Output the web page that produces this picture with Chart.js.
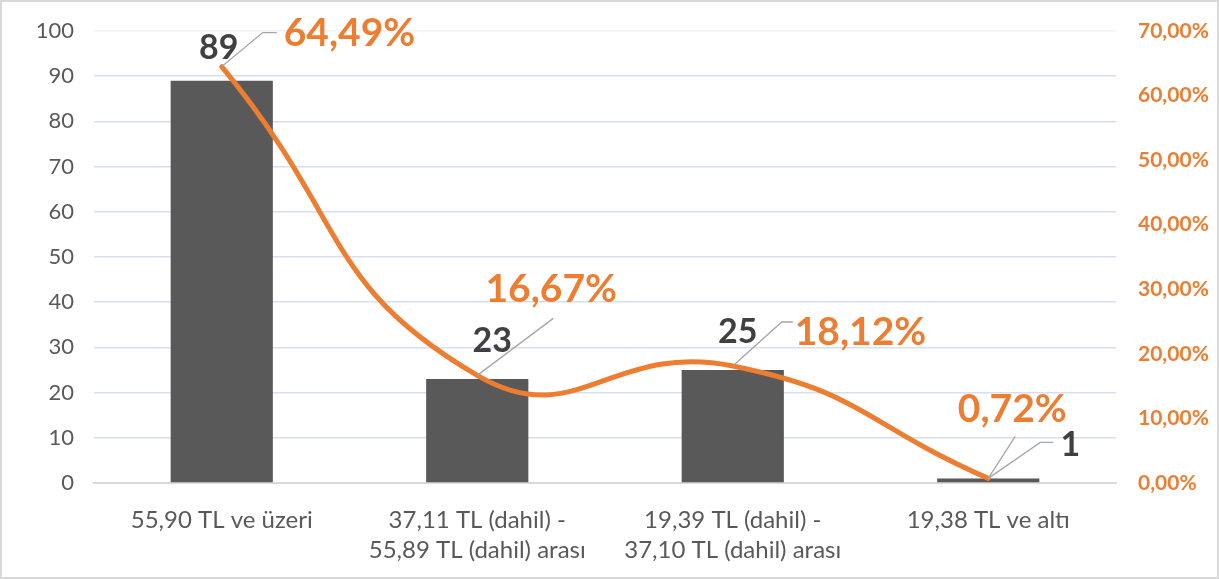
<!doctype html>
<html lang="tr">
<head>
<meta charset="utf-8">
<title>Fiyat aralığı</title>
<style>
  *{box-sizing:border-box;margin:0;padding:0}
  html,body{width:1219px;height:579px;background:#fff;overflow:hidden}
  .wrap{position:relative;width:1219px;height:579px;border:2px solid #d9d9d9}
  canvas{display:block}
</style>
</head>
<body>
<div class="wrap"><canvas id="c" width="1215" height="575"></canvas></div>
<script src="https://cdn.jsdelivr.net/npm/chart.js"></script>
<script>
const categories = [
  '55,90 TL ve üzeri',
  ['37,11 TL (dahil) -', '55,89 TL (dahil) arası'],
  ['19,39 TL (dahil) -', '37,10 TL (dahil) arası'],
  '19,38 TL ve altı'
];
const counts = [89, 23, 25, 1];
const shares = [64.49, 16.67, 18.12, 0.72];

const FONT = 'Lato, "Open Sans", sans-serif';
const ORANGE = '#ed7d31';
const fmtPct = v => v.toFixed(2).replace('.', ',') + '%';

// label placement relative to the line point (dx, dy) and leader paths
const place = [
  {bar:[-3,-19], pct:[62,-33,'left'], leads:[[[0,0],[41,-34],[55,-34]]]},
  {bar:[15,-34], pct:[74,-86,'center'], leads:[[[0,0],[76,-57]]]},
  {bar:[5,-34], pct:[62,-34,'left'], leads:[[[0,0],[49,-44],[60,-44]]]},
  {bar:[82,-33], pct:[24,-69,'center'], leads:[[[0,0],[27,-42]],[[0,0],[52,-36],[65,-36]]]}
];

const labels = {
  id:'labels',
  afterDatasetsDraw(c){
    const ctx = c.ctx;
    const line = c.getDatasetMeta(1).data;
    ctx.save();
    line.forEach((p, i) => {
      const L = place[i];
      ctx.strokeStyle = '#a6a6a6'; ctx.lineWidth = 1.3;
      L.leads.forEach(path => {
        ctx.beginPath();
        path.forEach(([dx,dy], k) => k ? ctx.lineTo(p.x+dx, p.y+dy) : ctx.moveTo(p.x+dx, p.y+dy));
        ctx.stroke();
      });
      ctx.textBaseline = 'middle';
      ctx.font = 'bold 34px ' + FONT; ctx.fillStyle = '#404040'; ctx.textAlign = 'center';
      ctx.fillText(String(counts[i]), p.x + L.bar[0], p.y + L.bar[1]);
      ctx.font = 'bold 39px ' + FONT; ctx.fillStyle = ORANGE; ctx.textAlign = L.pct[2];
      ctx.fillText(fmtPct(shares[i]), p.x + L.pct[0], p.y + L.pct[1]);
    });
    ctx.restore();
  }
};

new Chart(document.getElementById('c'), {
  data: {
    labels: categories,
    datasets: [
      {type:'bar', data: counts, backgroundColor:'#595959', yAxisID:'y',
       barPercentage:0.4, categoryPercentage:1, order:2},
      {type:'line', data: shares, borderColor: ORANGE, borderWidth:5, pointRadius:0,
       tension:0.5, yAxisID:'y1', order:1, borderCapStyle:'round'}
    ]
  },
  options: {
    responsive:false, animation:false,
    layout:{padding:{top:29, bottom:0, left:0, right:0}},
    plugins:{legend:{display:false}, tooltip:{enabled:false}},
    scales:{
      x:{
        grid:{display:false, drawTicks:false},
        border:{color:'#d9d9d9', width:2},
        ticks:{color:'#595959', font:{size:24, family:FONT, lineHeight:1.25}, padding:22, maxRotation:0, autoSkip:false},
        afterFit: s => { s.height = 94; }
      },
      y:{
        min:0, max:100,
        ticks:{stepSize:10, color:'#595959', font:{size:22, family:FONT}, padding:20},
        grid:{drawTicks:false, lineWidth:1.5, color: ctx => ctx.tick && ctx.tick.value === 0 ? '#d9d9d9' : (ctx.tick && ctx.tick.value === 100 ? '#eef1f6' : '#d6dff0')},
        border:{display:false},
        afterFit: s => { s.width = 92; s.paddingTop = 0; s.paddingBottom = 0; }
      },
      y1:{
        position:'right', min:0, max:70,
        ticks:{stepSize:10, color:ORANGE, font:{size:21, weight:'bold', family:FONT}, padding:22, callback: v => fmtPct(v)},
        grid:{display:false, drawTicks:false},
        border:{display:false},
        afterFit: s => { s.width = 101; s.paddingTop = 0; s.paddingBottom = 0; }
      }
    }
  },
  plugins:[labels]
});
</script>
</body>
</html>
